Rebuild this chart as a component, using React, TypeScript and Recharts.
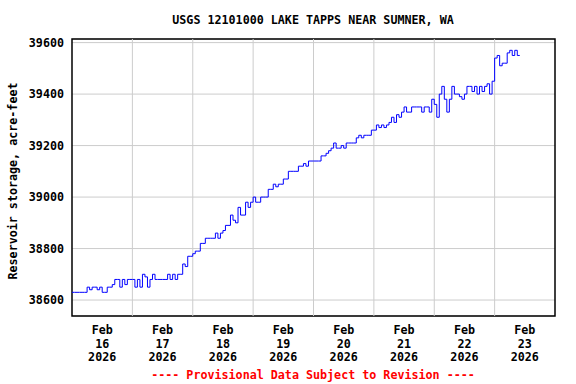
import { LineChart, Line, XAxis, YAxis, CartesianGrid, ReferenceLine, ReferenceArea } from 'recharts';

const title = 'USGS 12101000 LAKE TAPPS NEAR SUMNER, WA';
const yLabel = 'Reservoir storage, acre-feet';
const footnote = '---- Provisional Data Subject to Revision ----';
const month = 'Feb';
const year = '2026';
const days = ['16', '17', '18', '19', '20', '21', '22', '23'];
const yTicks = [38600, 38800, 39000, 39200, 39400, 39600];

// hourly reservoir storage (acre-feet), starting Feb 16 00:00
const storage = [
  38630, 38630, 38630, 38630, 38630, 38630,
  38650, 38640, 38650, 38650, 38640, 38650,
  38630, 38630, 38650, 38650, 38660, 38680,
  38680, 38650, 38680, 38660, 38680, 38680,
  38680, 38650, 38680, 38650, 38700, 38690,
  38650, 38680, 38700, 38680, 38680, 38680,
  38680, 38680, 38700, 38680, 38700, 38680,
  38700, 38700, 38740, 38730, 38770, 38770,
  38780, 38790, 38790, 38820, 38820, 38840,
  38840, 38840, 38840, 38860, 38840, 38860,
  38870, 38890, 38890, 38930, 38910, 38900,
  38960, 38930, 38930, 38980, 38960, 38980,
  39000, 38980, 38980, 39000, 39000, 39000,
  39030, 39030, 39050, 39040, 39050, 39050,
  39070, 39070, 39100, 39100, 39100, 39100,
  39120, 39120, 39130, 39120, 39140, 39140,
  39140, 39140, 39140, 39160, 39160, 39170,
  39180, 39190, 39210, 39190, 39190, 39200,
  39190, 39210, 39210, 39210, 39210, 39230,
  39240, 39230, 39240, 39240, 39240, 39260,
  39260, 39280, 39270, 39280, 39270, 39280,
  39290, 39310, 39290, 39320, 39310, 39330,
  39350, 39330, 39330, 39350, 39350, 39350,
  39350, 39330, 39350, 39350, 39330, 39380,
  39360, 39310, 39400, 39430, 39380, 39330,
  39380, 39430, 39400, 39400, 39390, 39380,
  39400, 39430, 39430, 39410, 39430, 39400,
  39430, 39410, 39430, 39440, 39400, 39450,
  39540, 39550, 39510, 39520, 39520, 39560,
  39570, 39550, 39570, 39550, 39550,
];

const data = storage.map((v, i) => ({ h: i, v }));
const dayTicks = days.map((_, i) => i * 24 + 12);
const midnights = days.slice(1).map((_, i) => (i + 1) * 24);

const FONT = '"DejaVu Sans Mono", monospace';
const Y_MIN = 38538;
const Y_MAX = 39614;

const DayTick = (props: any) => {
  const { x, y, payload } = props;
  const i = Math.round((payload.value - 12) / 24);
  return (
    <text textAnchor="middle" fontFamily={FONT} fontWeight="bold" fontSize={11.7} fill="#000">
      <tspan x={x} y={y + 10}>{month}</tspan>
      <tspan x={x} y={y + 24}>{days[i]}</tspan>
      <tspan x={x} y={y + 37}>{year}</tspan>
    </text>
  );
};

export default function App() {
  return (
    <div style={{ position: 'absolute', left: 0, top: 0, width: 576, height: 384, background: '#fff' }}>
      <LineChart width={576} height={384} data={data} margin={{ top: 39, right: 21, bottom: 0, left: 0 }}>
        <CartesianGrid vertical={false} stroke="#cccccc" />
        {midnights.map((m) => (
          <ReferenceLine key={m} x={m} stroke="#cccccc" />
        ))}
        <XAxis
          type="number"
          dataKey="h"
          domain={[0, 192]}
          ticks={dayTicks}
          height={68}
          axisLine={false}
          tickLine={false}
          tick={<DayTick />}
          interval={0}
        />
        <YAxis
          type="number"
          domain={[Y_MIN, Y_MAX]}
          ticks={yTicks}
          width={72}
          axisLine={false}
          tickLine={false}
          tickSize={0}
          tickMargin={8}
          allowDataOverflow
          tick={{ fontFamily: FONT, fontWeight: 'bold', fontSize: 11.7, fill: '#000' }}
        />
        <Line
          type="stepAfter"
          dataKey="v"
          stroke="#0000ff"
          strokeWidth={1}
          dot={false}
          isAnimationActive={false}
        />
        <ReferenceArea x1={0} x2={192} y1={Y_MIN} y2={Y_MAX} fill="none" stroke="#000" strokeWidth={1.5} />
      </LineChart>
      <svg
        width={576}
        height={384}
        style={{ position: 'absolute', left: 0, top: 0, pointerEvents: 'none' }}
        fontFamily={FONT}
        fontWeight="bold"
        fontSize={11.7}
      >
        <text x={313} y={24} textAnchor="middle" fill="#000">{title}</text>
        <text x={17} y={181} textAnchor="middle" fill="#000" transform="rotate(-90 17 181)">{yLabel}</text>
        <text x={313} y={379} textAnchor="middle" fill="#ff0000">{footnote}</text>
      </svg>
    </div>
  );
}
